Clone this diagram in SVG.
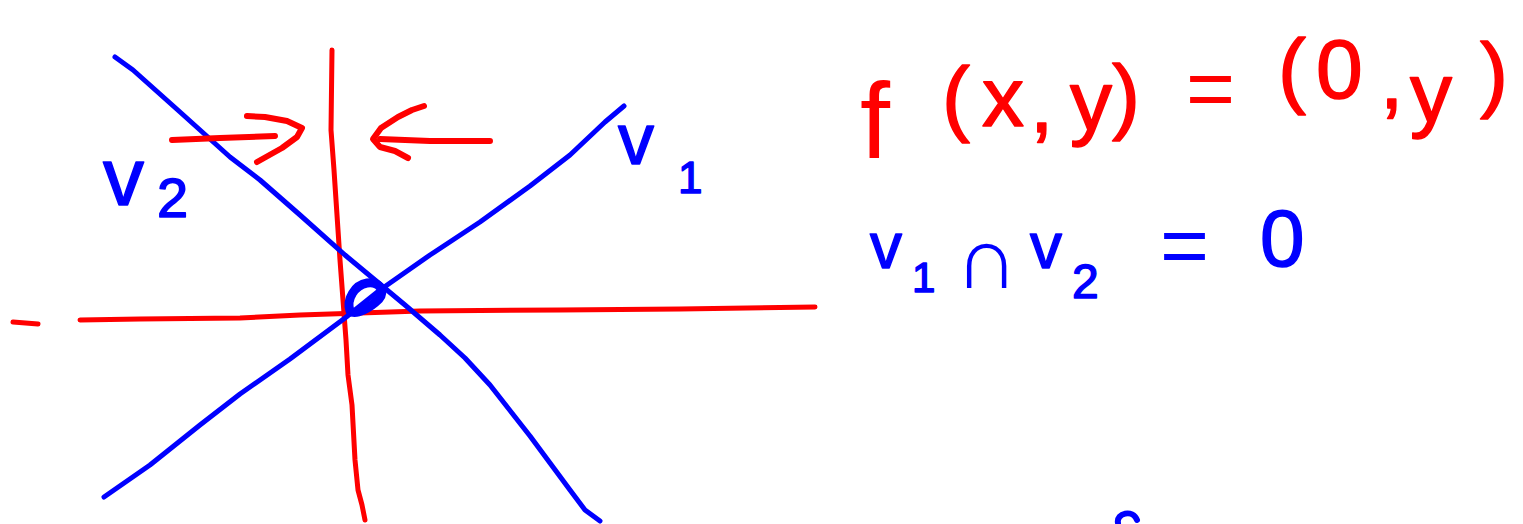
<svg xmlns="http://www.w3.org/2000/svg" width="1523" height="524" viewBox="0 0 1523 524">
<style>
.r{fill:none;stroke:#ff0000;stroke-linecap:round;stroke-linejoin:round}
.b{fill:none;stroke:#0000ff;stroke-linecap:round;stroke-linejoin:round}
.thin{stroke-width:5}
.mk{stroke-width:6}
.tr{fill:#ff0000;stroke:#ff0000;stroke-width:1.5;stroke-linejoin:round;font-family:"Liberation Sans",Arial,sans-serif}
.tb{fill:#0000ff;stroke:#0000ff;stroke-width:1.5;stroke-linejoin:round;font-family:"Liberation Sans",Arial,sans-serif}
.big{stroke-width:0}
</style>
<rect width="1523" height="524" fill="#ffffff"/>
<g id="axes">
<path class="r thin" d="M332,50 L331,130 L334,170 L337,215 L340,260 L343,300 L346,340 L348,375 L352,405 L355,460 L358,490 L362,505 L365,520"/>
<path class="r thin" d="M13,322 L38,324"/>
<path class="r thin" d="M80,320 L140,319 L240,318 L300,315 L420,311 L560,310 L680,309 L815,307"/>
</g>
<g id="subspaces">
<path class="b thin" d="M115,57 L133,70 L180,112 L230,157 L260,180 L300,215 L345,255 L375,280 L405,305 L440,335 L465,358 L490,385 L530,436 L570,490 L585,510 L600,521"/>
<path class="b thin" d="M104,497 L150,465 L200,425 L240,394 L290,359 L345,318 L380,290 L430,255 L480,222 L530,186 L570,155 L605,122 L624,106"/>
<path class="b" stroke-width="9" d="M350,311 C346,299 355,285 367,283 C379,281 386,291 379,299 C371,307 356,316 350,311 Z"/>
</g>
<g id="arrows">
<path class="r mk" d="M172,140 L220,138 L275,136"/>
<path class="r mk" d="M247,116 L265,117 L287,121 L302,128 L297,137 L282,148 L257,162"/>
<path class="r mk" d="M490,141 L430,141 L380,139"/>
<path class="r mk" d="M424,106 L412,110 L398,117 L381,128 L373,139 L380,147 L395,151 L408,158"/>
</g>
<g id="label-v2">
<text class="tb" font-size="82" x="103" y="205">v<tspan font-size="56" x="157" y="217">2</tspan></text>
</g>
<g id="label-v1">
<text class="tb" font-size="72" x="618" y="164">v<tspan font-size="44" x="678" y="193">1</tspan></text>
</g>
<g id="formula-f">
<text class="tr" font-size="84"><tspan class="big" font-size="108" x="860" y="158">f</tspan><tspan x="942" y="126">(</tspan><tspan x="982" y="126">x</tspan><tspan x="1030" y="132">,</tspan><tspan x="1070" y="130">y</tspan><tspan x="1112" y="124">)</tspan><tspan class="big" font-size="84" x="1186" y="117">=</tspan><tspan x="1278" y="98">(</tspan><tspan x="1316" y="98">0</tspan><tspan x="1380" y="108">,</tspan><tspan x="1410" y="122">y</tspan><tspan x="1480" y="102">)</tspan></text>
</g>
<g id="formula-v">
<text class="tb" font-size="64"><tspan x="870" y="268">v</tspan><tspan font-size="42" x="912" y="292">1</tspan><tspan class="big" font-size="88" x="955" y="288">∩</tspan><tspan x="1030" y="268">v</tspan><tspan font-size="48" x="1072" y="298">2</tspan><tspan class="big" font-size="84" x="1160" y="274">=</tspan><tspan font-size="80" x="1260" y="266">0</tspan></text>
<path class="b mk" d="M1118,523 C1116,513 1133,509 1137,520"/>
</g>
</svg>
